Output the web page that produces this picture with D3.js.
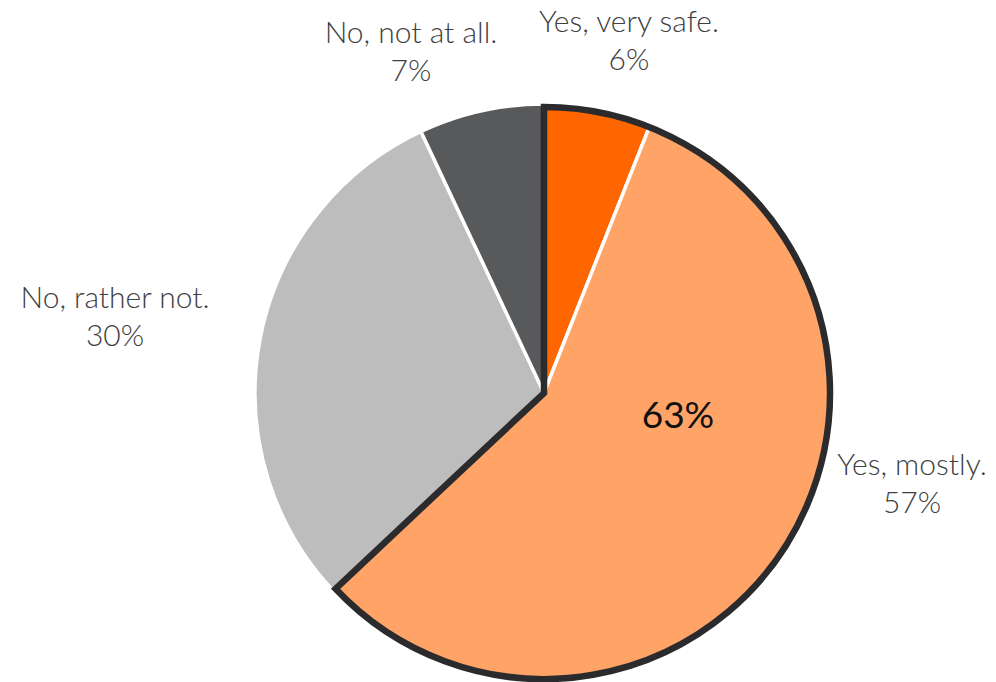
<!DOCTYPE html>
<html>
<head>
<meta charset="utf-8">
<script src="https://cdn.jsdelivr.net/npm/d3@7"></script>
<style>
  html, body { margin: 0; padding: 0; background: #fff; }
  svg { display: block; }
</style>
</head>
<body>
<svg id="chart" width="996" height="682"></svg>
<script>
// Survey answers: "Do you feel safe?"
const categories = ["Yes, very safe.", "Yes, mostly.", "No, rather not.", "No, not at all."];
const values = [6, 57, 30, 7];
const colors = ["#FF6600", "#FFA366", "#BDBDBD", "#58595B"];
// Slices grouped under the combined "yes" outline
const groupMembers = ["Yes, very safe.", "Yes, mostly."];
// Label anchor points (centre x, first baseline y)
const labelPos = [[629, 32], [912, 475], [115, 308], [411, 43]];

const svg = d3.select("#chart");
const cx = 544, cy = 393, r = 289;
const g = svg.append("g").attr("transform", `translate(${cx},${cy})`);

const data = categories.map((c, i) => ({ category: c, value: values[i], color: colors[i] }));
const pie = d3.pie().sort(null).value(d => d.value).startAngle(0).endAngle(2 * Math.PI);
const arcs = pie(data);
const arc = d3.arc().innerRadius(0).outerRadius(r);

g.selectAll("path.slice")
  .data(arcs)
  .join("path")
  .attr("class", "slice")
  .attr("d", arc)
  .attr("fill", d => d.data.color)
  .attr("stroke", "#fff")
  .attr("stroke-width", 3.5)
  .attr("stroke-linejoin", "round");

// Outline around the combined "yes" group
const grp = arcs.filter(a => groupMembers.includes(a.data.category));
const gStart = d3.min(grp, a => a.startAngle);
const gEnd = d3.max(grp, a => a.endAngle);
const gTotal = d3.sum(grp, a => a.data.value);
const total = d3.sum(values);
const outlineArc = d3.arc().innerRadius(0).outerRadius(r - 3).startAngle(gStart).endAngle(gEnd);
g.append("path")
  .attr("d", outlineArc())
  .attr("fill", "none")
  .attr("stroke", "#2B2B2D")
  .attr("stroke-width", 6.5)
  .attr("stroke-linejoin", "miter");

// Group total inside the outlined area
g.append("text")
  .attr("x", 134)
  .attr("y", 35)
  .attr("text-anchor", "middle")
  .attr("font-family", "Lato, 'Open Sans', sans-serif")
  .attr("font-size", 37)
  .attr("fill", "#111")
  .text(d3.format(".0%")(gTotal / total));

// Category labels with percentage
const fmt = v => Math.round(v / total * 100) + "%";
const labels = svg.selectAll("g.label")
  .data(arcs)
  .join("g")
  .attr("class", "label")
  .attr("transform", (d, i) => `translate(${labelPos[i][0]},${labelPos[i][1]})`);
labels.append("text")
  .attr("text-anchor", "middle")
  .attr("font-family", "Lato, 'Open Sans', sans-serif")
  .attr("font-weight", 300)
  .attr("font-size", 30)
  .attr("fill", "#404040")
  .selectAll("tspan")
  .data(d => [d.data.category, fmt(d.data.value)])
  .join("tspan")
  .attr("x", 0)
  .attr("dy", (t, i) => i === 0 ? 0 : 38)
  .text(t => t);
</script>
</body>
</html>
